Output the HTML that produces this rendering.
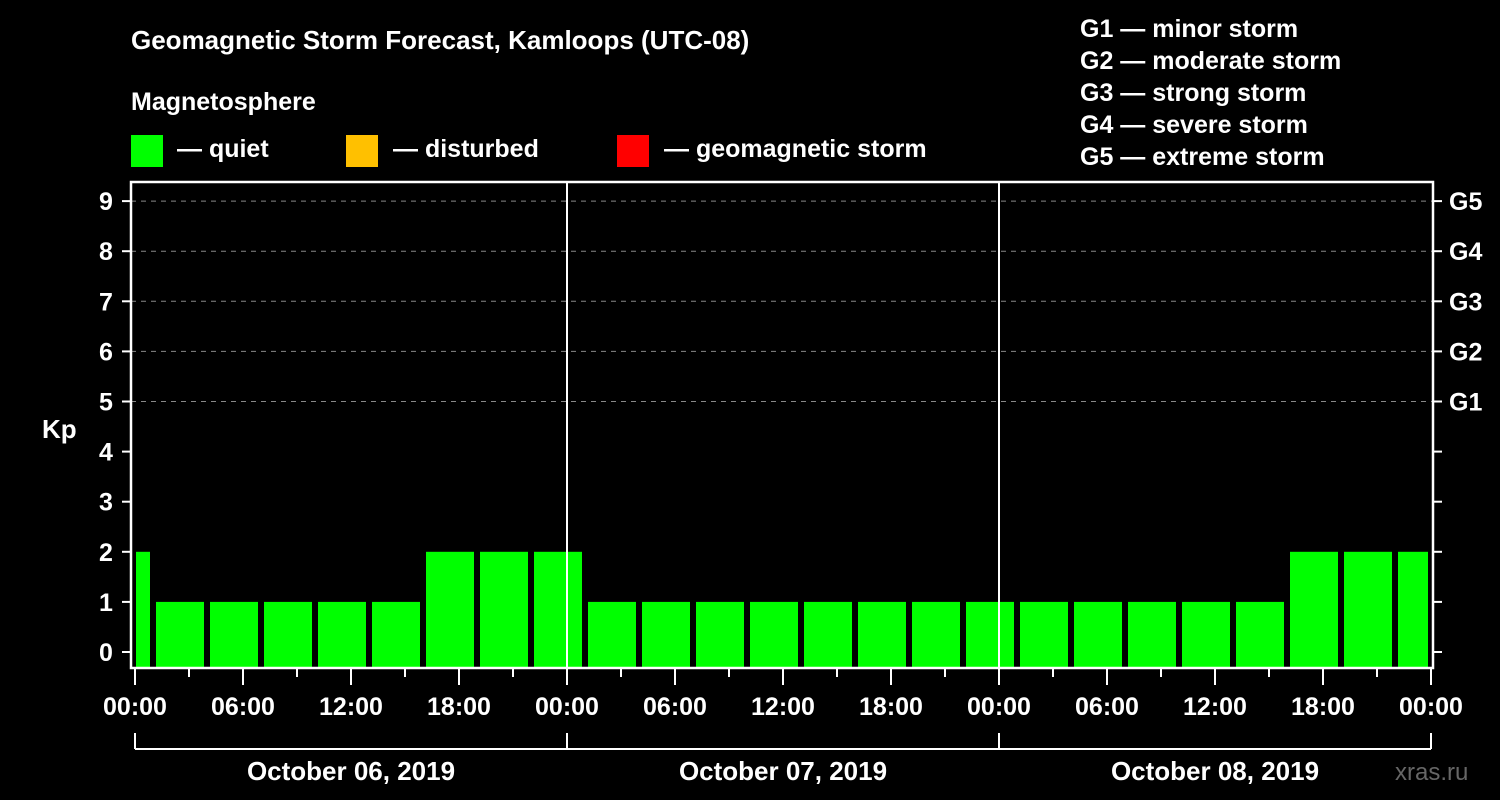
<!DOCTYPE html>
<html><head><meta charset="utf-8"><style>
body{margin:0;background:#000;}
svg{display:block;font-family:"Liberation Sans",Arial,sans-serif;font-weight:bold;}
</style></head><body>
<svg width="1500" height="800" viewBox="0 0 1500 800">
<rect width="1500" height="800" fill="#000"/>
<text x="131" y="49" font-size="26" fill="#fff">Geomagnetic Storm Forecast, Kamloops (UTC-08)</text>
<text x="131" y="110" font-size="25" fill="#fff">Magnetosphere</text>
<g><rect x="131" y="135" width="32" height="32" fill="#00ff00"/><text x="177" y="157" font-size="25" fill="#fff">— quiet</text></g>
<g><rect x="346" y="135" width="32" height="32" fill="#ffc000"/><text x="393" y="157" font-size="25" fill="#fff">— disturbed</text></g>
<g><rect x="617" y="135" width="32" height="32" fill="#ff0000"/><text x="664" y="157" font-size="25" fill="#fff">— geomagnetic storm</text></g>
<g font-size="25" fill="#fff">
<text x="1080" y="37">G1 — minor storm</text>
<text x="1080" y="69">G2 — moderate storm</text>
<text x="1080" y="101">G3 — strong storm</text>
<text x="1080" y="133">G4 — severe storm</text>
<text x="1080" y="165">G5 — extreme storm</text>
</g>
<text x="42" y="438" font-size="26" fill="#fff">Kp</text>
<text x="1395" y="780" font-size="24" fill="#666" font-weight="normal">xras.ru</text>
<g id="chart"></g>
</svg>
<script>
const kpValues=[2,1,1,1,1,1,2,2,2,1,1,1,1,1,1,1,1,1,1,1,1,1,2,2,2];
const blockStartHours=[-2,1,4,7,10,13,16,19,22,25,28,31,34,37,40,43,46,49,52,55,58,61,64,67,70];
const yTicks=[0,1,2,3,4,5,6,7,8,9];
const gLabels=["G1","G2","G3","G4","G5"];
const gLevels=[5,6,7,8,9];
const xTickLabels=["00:00","06:00","12:00","18:00","00:00","06:00","12:00","18:00","00:00","06:00","12:00","18:00","00:00"];
const dayLabels=["October 06, 2019","October 07, 2019","October 08, 2019"];
const NS="http://www.w3.org/2000/svg";
const g=document.getElementById('chart');
const L=131,R=1433,T=182,B=668,X0=135,PXH=18;
const x=h=>X0+h*PXH;
const y=v=>652-v*50.1;
function mk(t,a,p){const e=document.createElementNS(NS,t);for(const k in a)e.setAttribute(k,a[k]);(p||g).appendChild(e);return e;}
// grid
gLevels.forEach(v=>{const e=mk('line',{x1:L,x2:R,y1:y(v),y2:y(v),stroke:'#888','stroke-dasharray':'5,5','stroke-width':1});

});
// bars
kpValues.forEach((v,i)=>{let s=x(blockStartHours[i])+3,e2=x(blockStartHours[i]+3)-3;
s=Math.max(s,x(0)+1);e2=Math.min(e2,x(72)-3);
const r=mk('rect',{x:s,y:y(v),width:e2-s,height:B-y(v),fill:'#00ff00'});

});
// day separators
[1,2].forEach(d=>{const e=mk('line',{x1:x(24*d),x2:x(24*d),y1:T,y2:B,stroke:'#fff','stroke-width':2});

});
// frame
const f=mk('rect',{x:L,y:T,width:R-L,height:B-T,fill:'none',stroke:'#fff','stroke-width':2.5});


// y ticks
yTicks.forEach(v=>{mk('line',{x1:122,x2:L,y1:y(v),y2:y(v),stroke:'#fff','stroke-width':2});
mk('line',{x1:R,x2:R+9,y1:y(v),y2:y(v),stroke:'#fff','stroke-width':2});
const t=mk('text',{x:106,y:y(v)+9,'font-size':25,fill:'#fff','text-anchor':'middle'});t.textContent=v;

});
gLabels.forEach((l,i)=>{const t=mk('text',{x:1449,y:y(gLevels[i])+9,'font-size':25,fill:'#fff'});t.textContent=l;

});
// x ticks
for(let h=0;h<=72;h+=3){const major=h%6===0;mk('line',{x1:x(h),x2:x(h),y1:B,y2:major?685:677,stroke:'#fff','stroke-width':2});}
xTickLabels.forEach((l,i)=>{const t=mk('text',{x:x(i*6),y:715,'font-size':25,fill:'#fff','text-anchor':'middle'});t.textContent=l;

});
// day bracket
mk('line',{x1:x(0),x2:x(72),y1:749,y2:749,stroke:'#fff','stroke-width':2});
for(let d=0;d<=3;d++)mk('line',{x1:x(24*d),x2:x(24*d),y1:733,y2:749,stroke:'#fff','stroke-width':2});
dayLabels.forEach((l,i)=>{const t=mk('text',{x:x(24*i+12),y:780,'font-size':26,fill:'#fff','text-anchor':'middle'});t.textContent=l;

});
</script>
</body></html>
